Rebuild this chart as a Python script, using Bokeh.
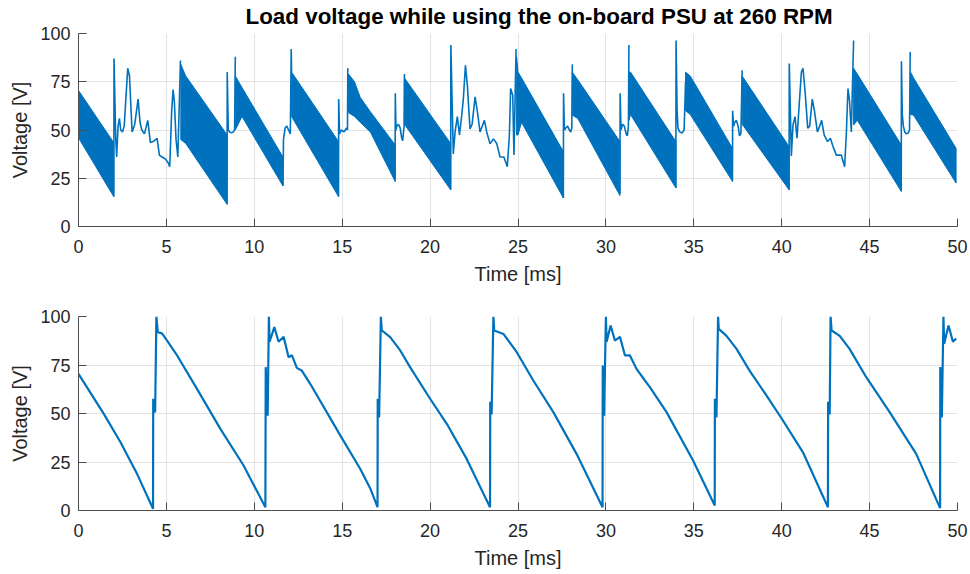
from bokeh.plotting import figure
from bokeh.layouts import column
from bokeh.models import Range1d, FixedTicker, Title
from bokeh.embed import file_html
from bokeh.resources import INLINE

# ---------------- data ----------------
# Top panel: dense ripple bands (upper / lower envelope) per conduction interval
band_t = [
    [0.0, 2.0],
    [5.82, 6.1, 8.45],
    [8.92, 9.3, 11.63],
    [12.12, 14.79],
    [15.36, 15.7, 16.02, 16.6, 18.01],
    [18.54, 21.17],
    [24.92, 25.0, 25.2, 27.58],
    [28.09, 28.4, 30.8],
    [31.31, 31.4, 33.98],
    [34.53, 34.8, 37.2],
    [37.75, 40.42],
    [44.09, 44.3, 46.8],
    [47.33, 47.5, 49.92],
]
band_hi = [
    [70.5, 43.5],
    [84, 78, 47.5],
    [78, 72, 36],
    [80, 44],
    [79, 75, 67, 59.5, 42.3],
    [77, 43],
    [88, 80, 77, 38.8],
    [80, 76, 44],
    [80, 80, 44],
    [80, 78, 40.5],
    [78, 41.4],
    [82, 79, 42.3],
    [80, 77, 40.5],
]
band_lo = [
    [46, 15.5],
    [45, 43, 11.5],
    [50, 57, 21],
    [57, 15.5],
    [59, 57, 54, 49, 23.4],
    [53, 19],
    [47.4, 47.4, 54, 14.8],
    [57.7, 56, 16],
    [55, 58, 20],
    [60, 58, 23.4],
    [53, 19],
    [52.6, 55, 18.2],
    [58, 57.7, 22.5],
]
# Top panel: transient waveform between the ripple bands
trans_t = [
    [2.01, 2.02, 2.12, 2.17, 2.25, 2.33, 2.4, 2.5, 2.6, 2.8, 2.9, 3.05, 3.2, 3.39, 3.5,
     3.6, 3.75, 3.94, 4.09, 4.25, 4.47, 4.6, 4.75, 4.94, 5.1, 5.19, 5.3, 5.38, 5.45,
     5.55, 5.65, 5.8],
    [8.45, 8.46, 8.52, 8.6, 8.7, 8.8, 8.88, 8.92],
    [11.63, 11.66, 11.75, 11.85, 11.95, 12.05, 12.1, 12.12],
    [14.79, 14.8, 14.85, 14.95, 15.1, 15.25, 15.3, 15.32],
    [18.01, 18.02, 18.06, 18.1, 18.2, 18.3, 18.38, 18.44, 18.52, 18.54],
    [21.17, 21.18, 21.32, 21.42, 21.55, 21.67, 21.8, 21.89, 22.01, 22.12, 22.27, 22.39,
     22.56, 22.69, 22.84, 23.09, 23.22, 23.41, 23.6, 23.79, 23.98, 24.2, 24.39, 24.51,
     24.58, 24.7, 24.77, 24.89],
    [27.58, 27.59, 27.64, 27.72, 27.82, 27.92, 28.0, 28.06, 28.09],
    [30.8, 30.81, 30.86, 30.95, 31.05, 31.15, 31.22, 31.28, 31.31],
    [33.98, 33.99, 34.05, 34.1, 34.2, 34.34, 34.45, 34.53],
    [37.2, 37.21, 37.26, 37.33, 37.42, 37.52, 37.6, 37.68, 37.75],
    [40.42, 40.43, 40.55, 40.64, 40.76, 40.87, 40.98, 41.12, 41.21, 41.33, 41.48, 41.59,
     41.74, 41.86, 42.03, 42.16, 42.27, 42.42, 42.61, 42.77, 42.92, 43.11, 43.39, 43.58,
     43.68, 43.77, 43.86, 43.96, 44.09],
    [46.8, 46.81, 46.86, 46.92, 47.0, 47.1, 47.2, 47.27, 47.31],
]
trans_v = [
    [15.5, 87, 45, 36, 52, 56, 50, 49, 52, 82, 78, 49, 53, 66, 54,
     50, 48, 55, 43.5, 44, 45.7, 37, 36, 35, 33, 31, 60, 71, 65,
     45, 36, 86],
    [11.5, 80, 50, 49, 48.5, 49, 50, 88],
    [21, 45, 51, 52, 50, 48, 92, 80],
    [15.5, 66, 48, 50, 49, 51, 50, 82],
    [23.4, 69, 50, 52, 53, 51, 46, 44.5, 52, 79],
    [19, 94, 37.6, 49, 56.9, 47.4, 57.7, 66, 83.5, 73, 50.6, 53,
     67.2, 59.4, 49, 55, 49, 42.8, 45.4, 43, 36, 36, 31, 47.4,
     71.5, 68, 37, 92],
    [14.8, 69, 50, 51, 52, 50, 49, 51, 84],
    [17, 69, 50, 53, 52, 48, 47, 52, 94],
    [20, 96.4, 60, 51, 49, 48.5, 50, 75],
    [23.4, 60, 52, 54, 55, 52, 47, 48, 81],
    [19, 84.4, 36.5, 52.6, 56.9, 45.7, 61, 80, 82, 70, 51, 52,
     66, 60, 49, 52, 55, 47.4, 44, 45.7, 41.4, 37, 37, 31,
     49, 71.5, 65, 49, 96.4],
    [18.2, 85.6, 58, 52, 49, 48, 48.5, 50, 90.4],
]
# Bottom panel: single waveform
bot_t = [0, 1.44, 2.39, 3.33, 4.24,
         4.25, 4.3, 4.36, 4.43, 4.51, 4.75, 5.04, 5.61, 6.74, 8.07, 9.39, 10.63,
         10.65, 10.76, 10.83, 10.87, 11.14, 11.38, 11.67, 11.95, 12.14, 12.42, 12.71, 13.18,
         14.89, 16.02, 16.59, 17.01,
         17.02, 17.1, 17.2, 17.25, 17.73, 18.3, 18.86, 20.0, 20.95, 22.08, 23.41,
         23.42, 23.5, 23.6, 23.65, 24.17, 24.93, 25.87, 27.01, 28.33, 29.81,
         29.82, 29.9, 30.0, 30.04, 30.27, 30.51, 30.8, 31.08, 31.36, 31.74, 32.22, 32.5,
         33.45, 34.96, 36.19,
         36.2, 36.29, 36.38, 36.42, 36.86, 37.43, 38.18, 39.13, 40.07, 41.21, 42.63,
         42.64, 42.73, 42.78, 42.84, 43.3, 43.86, 44.81, 46.14, 47.65, 49.01,
         49.02, 49.11, 49.2, 49.24, 49.49, 49.74, 49.92]
bot_v = [70.4, 49.8, 35.2, 18.9, 0.9,
         57.6, 50.9, 51, 100, 91.9, 91.3, 87.6, 79.9, 62.7, 42.1, 23.2, 1.7,
         73.9, 48.8, 100, 87, 94.5, 87, 89.5, 79, 80, 73.5, 72, 65.3,
         38.7, 21.5, 11.5, 1.7,
         57.6, 48, 100, 92.8, 89.4, 82.5, 73.9, 57.6, 44.7, 26.6, 1.7,
         56, 49.5, 100, 92.8, 91, 81.6, 67, 50.7, 29.2, 1.7,
         74.7, 48.8, 100, 87, 95.4, 87.6, 89.5, 80, 80, 73, 67, 63.6,
         50.7, 25.8, 2.6,
         57.6, 48, 100, 93.6, 90, 83.3, 72, 59.3, 46.4, 30, 1.7,
         56, 49.5, 100, 92.8, 90, 83.3, 68.7, 50.7, 29.2, 1.2,
         74, 48, 100, 86, 95.4, 87, 88.7]

x_ticks = [0, 5, 10, 15, 20, 25, 30, 35, 40, 45, 50]
y_ticks = [0, 25, 50, 75, 100]
title_text = "Load voltage while using the on-board PSU at 260 RPM"
x_label = "Time [ms]"
y_label = "Voltage [V]"

BLUE = "#0072BD"
FONT = "Liberation Sans"
TXT = "#262626"


def style(p):
    p.outline_line_color = None
    p.background_fill_color = "white"
    p.border_fill_color = "white"
    for ax in (p.xaxis[0], p.yaxis[0]):
        ax.axis_line_color = "#4d4d4d"
        ax.axis_line_width = 1
        ax.major_tick_in = 8
        ax.major_tick_out = 0
        ax.minor_tick_in = 0
        ax.minor_tick_out = 0
        ax.major_tick_line_color = "#4d4d4d"
        ax.major_label_text_font = FONT
        ax.major_label_text_font_size = "18px"
        ax.major_label_text_color = TXT
        ax.axis_label_text_font = FONT
        ax.axis_label_text_font_size = "20px"
        ax.axis_label_text_font_style = "normal"
        ax.axis_label_text_color = TXT
    p.xaxis[0].ticker = FixedTicker(ticks=x_ticks)
    p.yaxis[0].ticker = FixedTicker(ticks=y_ticks)
    p.xaxis[0].axis_label = x_label
    p.yaxis[0].axis_label = y_label
    p.xaxis[0].major_label_standoff = 13
    p.yaxis[0].major_label_standoff = 8
    p.xaxis[0].axis_label_standoff = 7
    p.yaxis[0].axis_label_standoff = 6
    for g in (p.xgrid[0], p.ygrid[0]):
        g.grid_line_color = "#e3e3e3"
        g.grid_line_width = 1


p1 = figure(width=970, height=287, x_range=Range1d(0, 50), y_range=Range1d(0, 100),
            output_backend="svg", toolbar_location=None,
            min_border_left=78, min_border_right=13, min_border_top=33, min_border_bottom=60)
style(p1)
p1.title = Title(text=title_text, align="left", vertical_align="top", offset=167, standoff=5,
                 text_font=FONT, text_font_size="22.4px", text_font_style="bold",
                 text_color="black")

xs = [t + t[::-1] for t in band_t]
ys = [hi + lo[::-1] for hi, lo in zip(band_hi, band_lo)]
p1.patches(xs, ys, fill_color=BLUE, line_color=BLUE, line_width=1)
p1.multi_line(trans_t, trans_v, line_color=BLUE, line_width=1.6)

p2 = figure(width=970, height=287, x_range=Range1d(0, 50), y_range=Range1d(0, 100),
            output_backend="svg", toolbar_location=None,
            min_border_left=78, min_border_right=13, min_border_top=29, min_border_bottom=64)
style(p2)
p2.line(bot_t, bot_v, line_color=BLUE, line_width=2.2)

layout = column(p1, p2, spacing=0)
open("out.html", "w").write(file_html(layout, INLINE))
